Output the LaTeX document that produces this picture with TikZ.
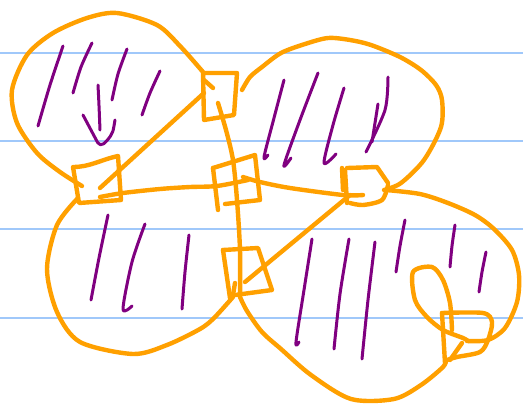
\documentclass[tikz,border=0pt]{standalone}
\begin{document}
\begin{tikzpicture}[x=1pt,y=-1pt,
  orangeink/.style={draw=inkorange,line width=4.4pt,line cap=round,line join=round},
  purpleink/.style={draw=inkpurple,line width=3pt,line cap=round,line join=round},
  ruled/.style={draw=ruleblue,line width=1.8pt}]
\definecolor{inkorange}{RGB}{255,160,0}
\definecolor{inkpurple}{RGB}{128,0,128}
\definecolor{ruleblue}{RGB}{160,200,250}
\useasboundingbox[fill=white] (0,0) rectangle (523,405);
% ruled lines
\foreach \yy in {53,141,229,318} \draw[ruled] (0,\yy) -- (523,\yy);
% ---- orange ----
% top-left blob
\draw[orangeink] plot[smooth] coordinates {(203,72) (180,46) (157,25) (117,13) (87,18) (53,33) (27,55) (12,90) (17,123) (37,153) (60,172) (82,186)};
% top square
\draw[orangeink] (203,73) -- (237,73) -- (234,115) -- (204,120) -- cycle;
\draw[orangeink] (204,80) -- (213,88);
% diagonal top-left
\draw[orangeink] (100,188) -- (204,93);
% vertical line
\draw[orangeink] plot[smooth] coordinates {(218,103) (226,130) (233,160) (237,200) (240,250) (240,297)};
% bottom-left square
\draw[orangeink] (73,167) .. controls (90,167) and (100,160) .. (118,156) -- (121,200) -- (79,203) -- cycle;
% horizontal left
\draw[orangeink] plot[smooth] coordinates {(100,197) (123,193) (160,189) (190,187) (217,186) (248,180)};
% center square
\draw[orangeink] (213,168) -- (218,210);
\draw[orangeink] (213,168) -- (255,155) -- (260,200) -- (225,204);
% line to right square
\draw[orangeink] plot[smooth] coordinates {(243,177) (260,182) (290,188) (343,195) (363,195)};
% right small square
\draw[orangeink] (345,170) -- (347,203);
\draw[orangeink] (342,168) -- (343,190);
\draw[orangeink] (347,168) -- (377,167) -- (388,183);
\draw[orangeink] plot[smooth] coordinates {(388,185) (382,200) (363,205) (350,203)};
% diagonal to lower centre square
\draw[orangeink] (350,195) -- (245,282);
% lower centre square
\draw[orangeink] (223,250) -- (258,248) -- (272,290) -- (235,295);
\draw[orangeink] (223,250) -- (230,298);
\draw[orangeink] (235,283) -- (233,295);
% lower-left blob
\draw[orangeink] plot[smooth] coordinates {(78,198) (57,225) (47,269) (57,312) (80,342) (133,354) (167,345) (200,329) (214,318) (233,297)};
% top-right blob
\draw[orangeink] plot[smooth] coordinates {(242,90) (250,77) (262,67) (281,53) (305,44) (328,38) (350,40) (371,45) (400,57) (421,70) (436,85) (442,100) (441,127) (424,160) (401,183) (384,190)};
% lower-right blob
\draw[orangeink] plot[smooth] coordinates {(386,190) (420,194) (448,203) (475,215) (494,229) (512,250) (519,275) (517,302) (505,328) (488,340) (467,341)};
\draw[orangeink] plot[smooth] coordinates {(240,297) (247,311) (262,332) (281,349) (311,375) (351,399) (394,399) (421,385) (443,367) (446,360)};
% loop
\draw[orangeink] plot[smooth] coordinates {(452,330) (450,303) (443,280) (432,267) (413,272) (415,300) (427,317) (443,330) (463,338) (468,341)};
\draw[orangeink] plot[smooth] coordinates {(442,313) (483,313) (492,322) (488,340) (480,352) (457,357) (447,360)};
\draw[orangeink] (442,313) -- (445,363);
\draw[orangeink] (462,343) -- (450,360);
% ---- purple ----
\draw[purpleink] plot[smooth] coordinates {(63,46) (50,85) (38,126)};
\draw[purpleink] plot[smooth] coordinates {(92,43) (81,67) (73,93)};
\draw[purpleink] plot[smooth] coordinates {(127,49) (118,74) (112,100)};
\draw[purpleink] plot[smooth] coordinates {(160,71) (150,93) (142,115)};
\draw[purpleink] (98,85) .. controls (99,105) .. (100,130);
\draw[purpleink,rounded corners=5pt] (83,115) -- (100,147) -- (108,140) .. controls (113,132) .. (115,120);
% top-right
\draw[purpleink] plot[smooth] coordinates {(284,80) (274,118) (264,157) (268,155)};
\draw[purpleink] plot[smooth] coordinates {(318,73) (300,120) (284,165) (291,158)};
\draw[purpleink] plot[smooth] coordinates {(344,88) (333,125) (324,163) (336,154)};
\draw[purpleink] plot[smooth] coordinates {(388,77) (385,110) (366,152)};
\draw[purpleink] (378,104) -- (372,142);
% lower-left
\draw[purpleink] plot[smooth] coordinates {(108,215) (99,258) (91,300)};
\draw[purpleink] plot[smooth] coordinates {(145,224) (132,262) (123,309) (132,306)};
\draw[purpleink] plot[smooth] coordinates {(189,235) (185,272) (182,309)};
% lower-right
\draw[purpleink] plot[smooth] coordinates {(312,239) (304,290) (296,342) (299,342)};
\draw[purpleink] plot[smooth] coordinates {(349,239) (340,294) (334,349)};
\draw[purpleink] plot[smooth] coordinates {(375,242) (368,300) (362,359)};
\draw[purpleink] plot[smooth] coordinates {(405,220) (400,246) (396,272)};
\draw[purpleink] plot[smooth] coordinates {(455,225) (452,246) (450,267)};
\draw[purpleink] plot[smooth] coordinates {(486,252) (482,272) (479,292)};
\end{tikzpicture}
\end{document}
